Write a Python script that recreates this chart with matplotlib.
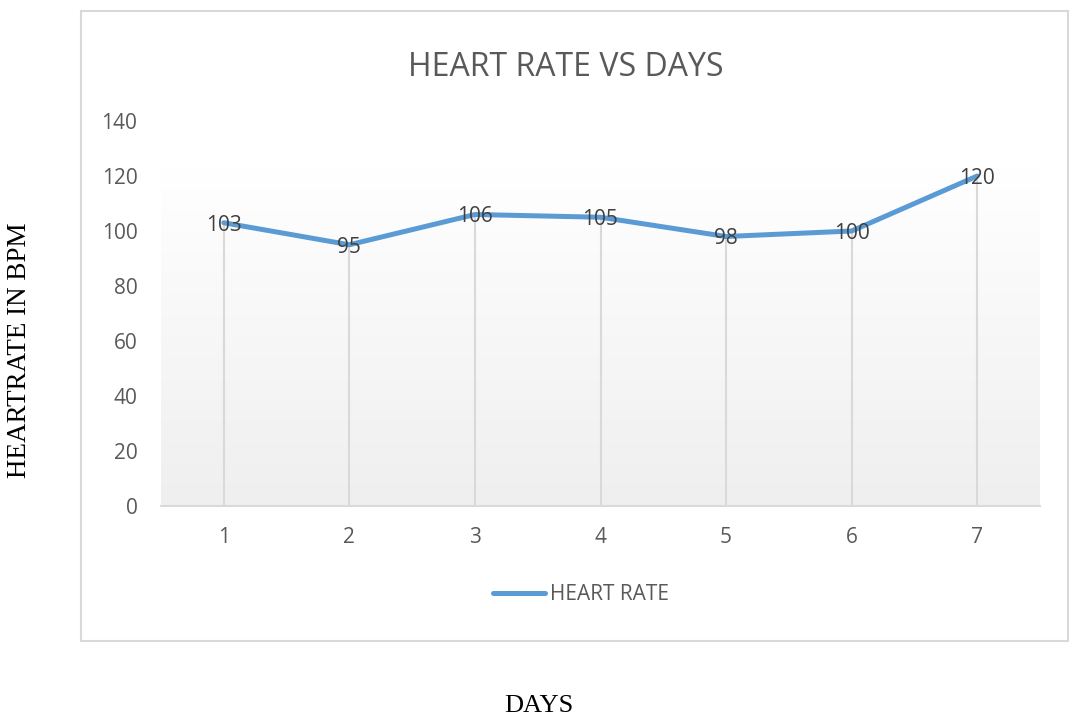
import numpy as np
import matplotlib.pyplot as plt
from matplotlib.patches import Rectangle

days = [1, 2, 3, 4, 5, 6, 7]
heart_rate = [103, 95, 106, 105, 98, 100, 120]
y_ticks = [0, 20, 40, 60, 80, 100, 120, 140]

grey = "#595959"
blue = "#5B9BD5"

fig = plt.figure(figsize=(10.69, 7.19), dpi=100)

# chart frame
fig.patches.append(Rectangle((81 / 1069, 1 - 641 / 719), 987 / 1069, 630 / 719,
                             transform=fig.transFigure, fill=False,
                             edgecolor="#d9d9d9", linewidth=1.5))

ax = fig.add_axes([161 / 1069, 1 - 506 / 719, 879 / 1069, 385 / 719])
ax.set_xlim(0.5, 7.5)
ax.set_ylim(0, 140)

# soft gradient in plot area (grey at bottom, white at top)
grad = np.linspace(0, 1, 256).reshape(-1, 1)
cmap = plt.matplotlib.colors.LinearSegmentedColormap.from_list("g", ["#efefef", "#ffffff"])
ax.imshow(grad, extent=(0.5, 7.5, 0, 123), origin="lower", aspect="auto",
          cmap=cmap, zorder=0)

# drop lines
ax.vlines(days, 0, heart_rate, color="#d9d9d9", linewidth=1.5, zorder=1)

ax.plot(days, heart_rate, color=blue, linewidth=3.6, solid_capstyle="round",
        label="HEART RATE", zorder=2)

for d, v in zip(days, heart_rate):
    ax.text(d, v, str(v), ha="center", va="center_baseline", fontsize=15,
            family="Open Sans", color="#404040", zorder=3)

for s in ["top", "right", "left"]:
    ax.spines[s].set_visible(False)
ax.spines["bottom"].set_color("#d9d9d9")
ax.spines["bottom"].set_linewidth(1.5)

ax.set_xticks(days)
ax.set_yticks(y_ticks)
ax.tick_params(axis="both", length=0, labelsize=15, labelcolor=grey)
ax.tick_params(axis="y", pad=17)
ax.tick_params(axis="x", pad=15)
for lab in ax.get_xticklabels() + ax.get_yticklabels():
    lab.set_family("Open Sans")

fig.text(566 / 1069, 1 - 67 / 719, "HEART RATE VS DAYS", ha="center", va="center",
         fontsize=23, family="Open Sans", color=grey)

leg = ax.legend(loc="center", bbox_to_anchor=(581 / 1069, 1 - 595 / 719),
                bbox_transform=fig.transFigure, frameon=False,
                handlelength=2.5, handletextpad=0.2,
                prop={"family": "Open Sans", "size": 15})
for t in leg.get_texts():
    t.set_color(grey)

fig.text(20 / 1069, 1 - 350 / 719, "HEARTRATE IN BPM", rotation=90, ha="center",
         va="center", fontsize=19.5, family="Liberation Serif", color="black")
fig.text(539 / 1069, 1 - 706 / 719, "DAYS", ha="center", va="center",
         fontsize=19, family="Liberation Serif", color="black")

fig.savefig("out.png", dpi=100)
